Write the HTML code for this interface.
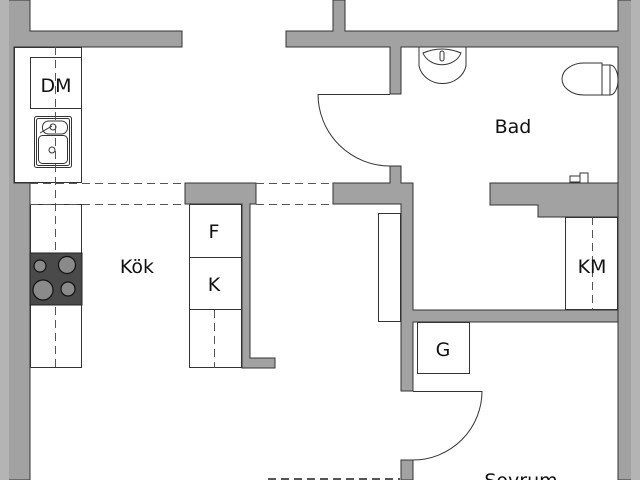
<!DOCTYPE html>
<html><head><meta charset="utf-8"><style>html,body{margin:0;padding:0;background:#fff}svg{display:block}</style></head>
<body>
<svg width="640" height="480" viewBox="0 0 640 480" xmlns="http://www.w3.org/2000/svg" font-family="'DejaVu Sans','Liberation Sans',sans-serif">
<rect width="640" height="480" fill="#fff"/>
<g fill="#a2a2a2" stroke="#333" stroke-width="1">
  <!-- left outer walls -->
  <path d="M0,0 H30 V31 H182 V47 H14 V183 H30 V480 H0 Z"/>
  <!-- top right walls -->
  <path d="M333,0 H345 V31 H618 V0 H640 V480 H618 V47 H401 V94 H390 V47 H286 V31 H333 Z"/>
  <!-- door stub + wall near bath -->
  <path d="M390,166 H401 V183 H413 V310 H618 V322 H413 V391 H401 V204 H333 V183 H390 Z"/>
  <path d="M401,460 H413 V480 H401 Z"/>
  <!-- kitchen wall block -->
  <path d="M185,183 H256 V204 H250 V358 H275 V368 H242 V204 H185 Z"/>
  <!-- bath bottom wall -->
  <path d="M490,183 H618 V217 H538 V205 H490 Z"/>
</g>
<rect x="0" y="0" width="9" height="480" fill="#b4b4b4"/>
<rect x="631" y="0" width="9" height="480" fill="#b4b4b4"/>
<g fill="none" stroke="#333" stroke-width="1">
  <!-- kitchen counter top -->
  <rect x="14.5" y="47.5" width="67" height="135"/>
  <rect x="30.5" y="57.5" width="51" height="51"/>
  <rect x="34.5" y="116.5" width="37" height="51" rx="2"/>
  <rect x="36.5" y="118.5" width="33" height="47" rx="2"/>
  <rect x="42.5" y="121" width="25" height="13" rx="6"/>
  <rect x="38.5" y="135.5" width="29" height="28" rx="4"/>
  <circle cx="53" cy="127" r="3"/><circle cx="52" cy="150" r="3"/>
  <line x1="40" y1="133" x2="52" y2="126"/>
  <!-- lower left counter -->
  <rect x="30.5" y="204.5" width="51" height="163"/>
  <!-- fridge column -->
  <rect x="189.5" y="204.5" width="52" height="163"/>
  <line x1="189" y1="257.5" x2="242" y2="257.5"/>
  <line x1="189" y1="309.5" x2="242" y2="309.5"/>
  <!-- box near bath -->
  <rect x="378.5" y="213.5" width="22" height="108"/>
  <!-- KM -->
  <rect x="565.5" y="217.5" width="52" height="92"/>
  <!-- G -->
  <rect x="417.5" y="322.5" width="52" height="51"/>
  <!-- doors -->
  <line x1="318" y1="94.5" x2="390" y2="94.5"/>
  <path d="M318,94 A72,72 0 0 0 390,166"/>
  <line x1="413" y1="391.5" x2="482" y2="391.5"/>
  <path d="M482,391 A69,69 0 0 1 413,460"/>
  <!-- bath sink -->
  <path d="M419,47 V66 A24,22 0 0 0 466,66 V47"/>
  <path d="M423,53 A20,17 0 0 0 461,53 Q442,45 423,53 Z"/>
  <rect x="440" y="51" width="4" height="10" rx="2"/>
  <!-- toilet -->
  <path d="M602,63 H584 A22,16 0 0 0 584,95 H602 Z"/>
  <rect x="602" y="65" width="8" height="30"/>
  <path d="M610,65 A8,15 0 0 1 610,95"/>
  <!-- tap -->
  <rect x="570" y="176" width="10" height="6"/>
  <rect x="580" y="173" width="8" height="10"/>
</g>
<g stroke="#555" stroke-width="1" stroke-dasharray="8,5" fill="none">
  <line x1="30" y1="183.5" x2="185" y2="183.5"/>
  <line x1="256" y1="183.5" x2="333" y2="183.5"/>
  <line x1="30" y1="204.5" x2="185" y2="204.5"/>
  <line x1="256" y1="204.5" x2="333" y2="204.5"/>
  <line x1="55.5" y1="47" x2="55.5" y2="368"/>
  <line x1="214.5" y1="310" x2="214.5" y2="368"/>
  <line x1="592.5" y1="217" x2="592.5" y2="310"/>
  <line x1="268" y1="479" x2="400" y2="479" stroke-width="2"/>
</g>
<!-- stove -->
<rect x="30" y="253" width="52" height="52" fill="#4a4a4a" stroke="#222"/>
<g fill="#8a8a8a" stroke="#111" stroke-width="1.2">
  <circle cx="40" cy="266" r="6"/>
  <circle cx="67" cy="265" r="8.5"/>
  <circle cx="43" cy="290" r="10"/>
  <circle cx="68" cy="289" r="7"/>
</g>
<g font-size="19" fill="#111" text-anchor="middle">
  <text x="56" y="92">DM</text>
  <text x="137" y="273">Kök</text>
  <text x="214" y="238">F</text>
  <text x="214" y="291">K</text>
  <text x="513" y="133">Bad</text>
  <text x="592" y="273">KM</text>
  <text x="443" y="356">G</text>
  <text x="521" y="487">Sovrum</text>
</g>
</svg>
</body></html>
